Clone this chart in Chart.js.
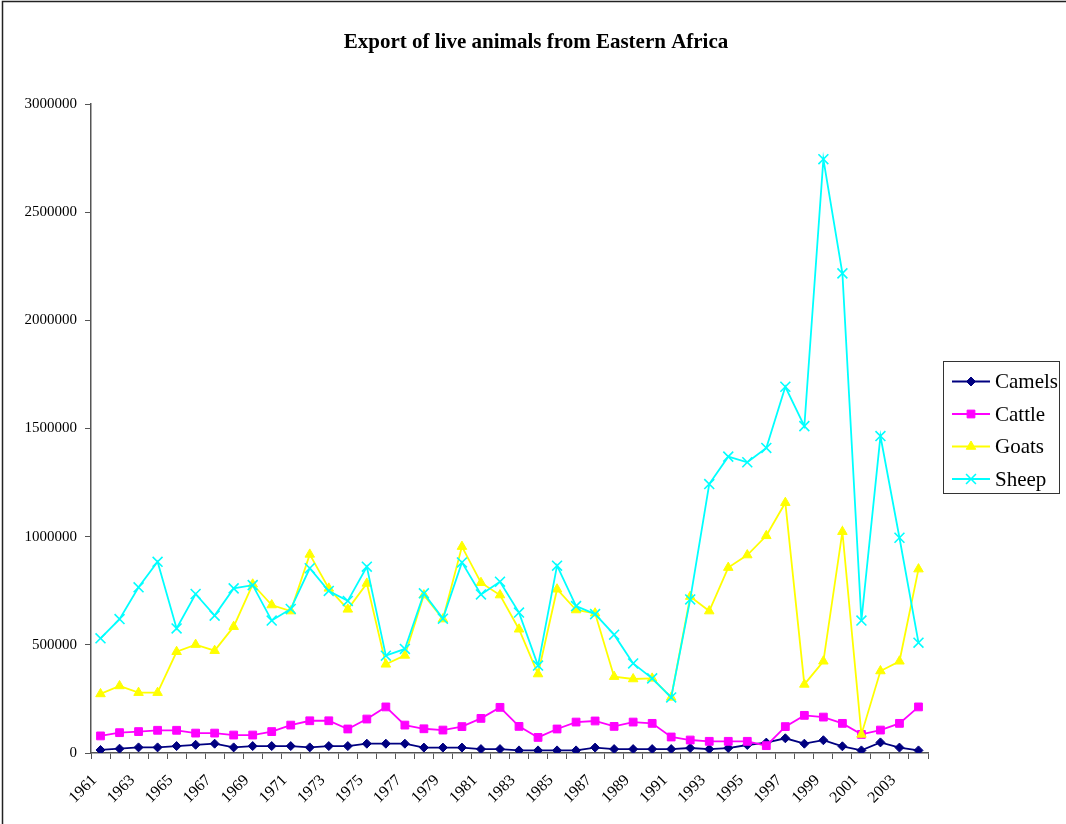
<!DOCTYPE html>
<html>
<head>
<meta charset="utf-8">
<title>Export of live animals from Eastern Africa</title>
<script src="https://cdn.jsdelivr.net/npm/chart.js@4.4.1/dist/chart.umd.min.js"></script>
<style>
    html, body { margin: 0; padding: 0; background: #ffffff; }
    #wrap { width: 1066px; height: 824px; }
</style>
</head>
<body>
<div id="wrap"><canvas id="exportChart" width="1066" height="824"></canvas></div>
<script>
// Live animal exports, head per year
const years = ['1961', '1962', '1963', '1964', '1965', '1966', '1967', '1968', '1969', '1970',
    '1971', '1972', '1973', '1974', '1975', '1976', '1977', '1978', '1979', '1980',
    '1981', '1982', '1983', '1984', '1985', '1986', '1987', '1988', '1989', '1990',
    '1991', '1992', '1993', '1994', '1995', '1996', '1997', '1998', '1999', '2000',
    '2001', '2002', '2003', '2004'];

const camels = [14000, 20000, 26000, 26000, 32000, 38000, 43000, 26000, 32000, 32000,
    32000, 26000, 32000, 32000, 43000, 43000, 43000, 25000, 25000, 25000,
    18000, 18000, 12000, 12000, 12000, 12000, 25000, 18000, 18000, 18000,
    18000, 23000, 18000, 23000, 37000, 48000, 68000, 43000, 59000, 31000,
    12000, 49000, 25000, 12000];

const cattle = [79000, 94000, 99000, 105000, 105000, 92000, 92000, 83000, 83000, 99000,
    129000, 149000, 149000, 111000, 157000, 213000, 129000, 112000, 106000, 122000,
    160000, 211000, 123000, 72000, 111000, 143000, 148000, 123000, 143000, 137000,
    74000, 60000, 54000, 54000, 54000, 34000, 122000, 174000, 166000, 137000,
    86000, 106000, 137000, 213000];

const goats = [273000, 310000, 279000, 279000, 468000, 501000, 473000, 584000, 780000, 684000,
    656000, 918000, 761000, 664000, 784000, 410000, 451000, 730000, 619000, 954000,
    787000, 730000, 572000, 365000, 757000, 661000, 646000, 353000, 342000, 345000,
    257000, 723000, 656000, 857000, 915000, 1004000, 1157000, 317000, 424000, 1023000,
    86000, 379000, 424000, 850000];

const sheep = [530000, 619000, 766000, 884000, 576000, 735000, 635000, 761000, 776000, 612000,
    666000, 854000, 749000, 703000, 861000, 450000, 481000, 738000, 621000, 881000,
    733000, 792000, 649000, 404000, 866000, 679000, 642000, 547000, 414000, 345000,
    257000, 710000, 1243000, 1370000, 1344000, 1410000, 1693000, 1511000, 2745000, 2217000,
    612000, 1465000, 995000, 510000];

const yTicks = [0, 500000, 1000000, 1500000, 2000000, 2500000, 3000000];

const serif = '"Liberation Serif", "Times New Roman", serif';
const axisColor = '#555555';

const seriesStyles = [
    { label: 'Camels', data: camels, color: '#000080', pointStyle: 'rectRot', radius: 4.5, order: 4 },
    { label: 'Cattle', data: cattle, color: '#ff00ff', pointStyle: 'rect', radius: 5.5, order: 3 },
    { label: 'Goats', data: goats, color: '#ffff00', pointStyle: 'triangle', radius: 5.5, order: 2 },
    { label: 'Sheep', data: sheep, color: '#00ffff', pointStyle: 'crossRot', radius: 7, order: 1 }
];

const datasets = seriesStyles.map(s => ({
    label: s.label,
    data: s.data,
    borderColor: s.color,
    backgroundColor: s.color,
    borderWidth: 1.8,
    pointStyle: s.pointStyle,
    pointRadius: s.radius,
    pointBorderWidth: s.pointStyle === 'crossRot' ? 1.6 : 1,
    pointBackgroundColor: s.color,
    pointBorderColor: s.color,
    tension: 0,
    order: s.order
}));

// Frame, title and boxed legend drawn straight onto the canvas
const decorPlugin = {
    id: 'decor',
    beforeDraw(chart) {
        const ctx = chart.ctx;
        ctx.save();
        ctx.fillStyle = '#ffffff';
        ctx.fillRect(0, 0, chart.width, chart.height);
        ctx.restore();
    },
    afterDraw(chart) {
        const ctx = chart.ctx;
        ctx.save();

        // outer frame (left and top edges)
        ctx.strokeStyle = '#222222';
        ctx.lineWidth = 1.5;
        ctx.beginPath();
        ctx.moveTo(2.5, chart.height);
        ctx.lineTo(2.5, 1.5);
        ctx.lineTo(chart.width, 1.5);
        ctx.stroke();

        // title
        ctx.fillStyle = '#000000';
        ctx.font = 'bold 21px ' + serif;
        ctx.textAlign = 'center';
        ctx.textBaseline = 'alphabetic';
        ctx.fillText('Export of live animals from Eastern Africa', 536, 48);

        // legend box
        const box = { x: 943.5, y: 361.5, w: 116, h: 132 };
        ctx.strokeStyle = '#333333';
        ctx.lineWidth = 1;
        ctx.strokeRect(box.x, box.y, box.w, box.h);

        ctx.font = '21px ' + serif;
        ctx.textAlign = 'left';
        ctx.textBaseline = 'middle';
        seriesStyles.forEach((s, i) => {
            const y = 381.5 + i * 32.5;
            ctx.strokeStyle = s.color;
            ctx.lineWidth = 1.8;
            ctx.beginPath();
            ctx.moveTo(952, y);
            ctx.lineTo(990, y);
            ctx.stroke();
            ctx.fillStyle = s.color;
            ctx.lineWidth = s.pointStyle === 'crossRot' ? 1.6 : 1;
            Chart.helpers.drawPoint(ctx, { pointStyle: s.pointStyle, radius: s.radius, rotation: 0, borderWidth: 1 }, 971, y);
            ctx.fillStyle = '#000000';
            ctx.fillText(s.label, 995, y + 1);
        });

        ctx.restore();
    }
};

const ctx = document.getElementById('exportChart');
const exportChart = new Chart(ctx, {
    type: 'line',
    data: { labels: years, datasets: datasets },
    plugins: [decorPlugin],
    options: {
        responsive: false,
        animation: false,
        devicePixelRatio: 1,
        layout: { padding: { top: 104, right: 138, bottom: 0, left: 0 } },
        plugins: {
            legend: { display: false },
            title: { display: false },
            tooltip: { enabled: false }
        },
        scales: {
            x: {
                type: 'category',
                offset: true,
                afterFit: scale => { scale.height = 71; },
                border: { display: true, color: axisColor, width: 1.5 },
                grid: {
                    display: true,
                    offset: true,
                    drawOnChartArea: false,
                    drawTicks: true,
                    tickLength: 6,
                    color: axisColor,
                    lineWidth: 1
                },
                ticks: {
                    autoSkip: false,
                    maxRotation: 45,
                    minRotation: 45,
                    padding: 12,
                    labelOffset: -6,
                    color: '#000000',
                    font: { family: serif, size: 16 },
                    callback: function(value, index) {
                        return index % 2 === 0 ? this.getLabelForValue(value) : '';
                    }
                }
            },
            y: {
                min: 0,
                max: 3000000,
                afterFit: scale => { scale.width = 91; },
                afterBuildTicks: scale => { scale.ticks = yTicks.map(v => ({ value: v })); },
                border: { display: true, color: axisColor, width: 1.5 },
                grid: {
                    display: true,
                    drawOnChartArea: false,
                    drawTicks: true,
                    tickLength: 6,
                    color: axisColor,
                    lineWidth: 1
                },
                ticks: {
                    padding: 8,
                    color: '#000000',
                    font: { family: serif, size: 15 },
                    callback: value => String(value)
                }
            }
        }
    }
});
</script>
</body>
</html>
